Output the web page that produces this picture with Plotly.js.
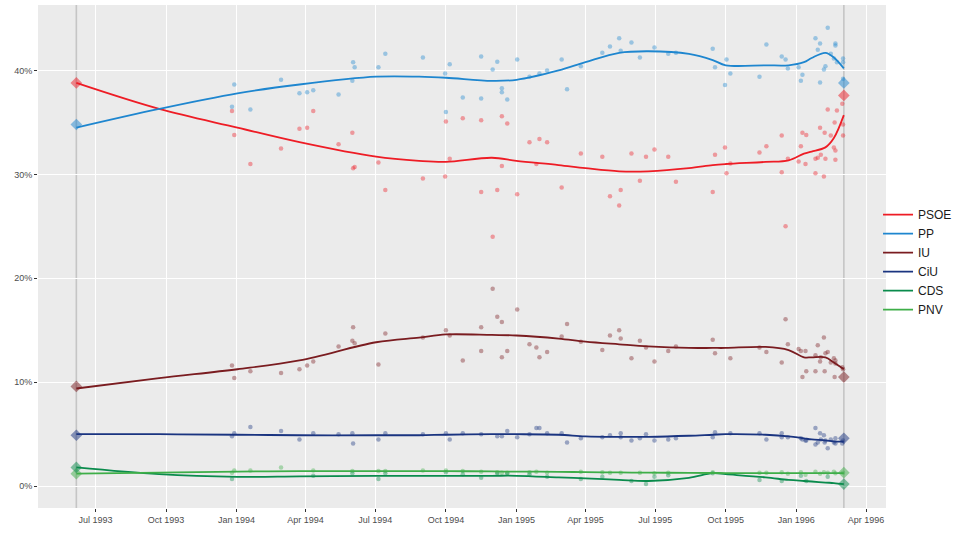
<!DOCTYPE html>
<html><head><meta charset="utf-8">
<script src="https://cdn.plot.ly/plotly-3.0.1.min.js"></script>
<style>html,body{margin:0;padding:0;background:#fff}#chart{width:960px;height:534px}</style>
</head><body><div id="chart"></div>
<script>
// ---- Party metadata ----
const parties = ["PSOE","PP","IU","CiU","CDS","PNV"];
const lineColors = ["#EE1C25","#1E86CF","#7A1C20","#1A3480","#0A8B4C","#3EAE48"];

// ---- Election results (diamonds) ----
const electionDates = ["1993-06-06","1996-03-03"];
const elecPSOE = [38.8, 37.6];
const elecPP   = [34.8, 38.8];
const elecIU   = [9.6, 10.5];
const elecCiU  = [4.9, 4.6];
const elecCDS  = [1.8, 0.2];
const elecPNV  = [1.2, 1.3];

// ---- Smoothed trend ----
const smoothDates = ["1993-06-06","1993-09-22","1994-01-02","1994-03-24","1994-07-02","1994-08-27","1994-10-01","1994-11-30","1995-01-01","1995-02-25","1995-04-01","1995-05-15","1995-06-22","1995-08-14","1995-09-14","1995-10-01","1995-11-22","1995-12-22","1996-01-11","1996-01-21","1996-02-08","1996-02-19","1996-03-03"];
const smPSOE = [38.8,36.3,34.5,33.1,31.7,31.3,31.2,31.6,31.3,30.9,30.6,30.3,30.3,30.6,30.9,31.0,31.2,31.35,32.0,32.2,32.6,33.5,35.7];
const smPP   = [34.5,36.3,37.8,38.65,39.4,39.4,39.3,39.0,39.1,40.0,40.8,41.7,41.85,41.6,41.0,40.5,40.5,40.5,40.8,41.2,41.7,41.25,40.2];
const smIU   = [9.4,10.4,11.25,12.1,13.85,14.3,14.6,14.55,14.5,14.2,13.9,13.65,13.45,13.3,13.3,13.3,13.4,13.1,12.4,12.4,12.4,11.9,11.25];
const smCiU  = [5.0,5.0,4.95,4.9,4.9,4.9,4.95,5.0,5.0,4.95,4.8,4.75,4.75,4.85,4.95,5.0,4.95,4.8,4.6,4.5,4.4,4.3,4.3];
const smCDS  = [1.8,1.15,0.9,0.95,1.0,1.0,1.0,1.0,1.0,0.85,0.75,0.6,0.5,0.8,1.25,1.15,0.85,0.6,0.5,0.45,0.35,0.3,0.2];
const smPNV  = [1.2,1.3,1.4,1.45,1.45,1.45,1.45,1.42,1.4,1.38,1.35,1.32,1.3,1.28,1.27,1.26,1.25,1.25,1.25,1.25,1.25,1.25,1.25];

// ---- Individual polls ----
const pollDatesPSOE = ["1993-12-29","1993-12-26","1994-01-19","1994-02-28","1994-03-24","1994-04-03","1994-04-11","1994-05-14","1994-06-01","1994-06-02","1994-06-04","1994-07-05","1994-07-14","1994-09-01","1994-09-30","1994-10-01","1994-10-06","1994-10-23","1994-11-16","1994-11-16","1994-12-01","1994-12-07","1994-12-13","1994-12-13","1994-12-20","1995-01-02","1995-01-18","1995-01-27","1995-01-31","1995-02-10","1995-03-01","1995-03-26","1995-04-23","1995-05-03","1995-05-15","1995-05-17","1995-05-31","1995-06-11","1995-06-19","1995-06-30","1995-07-18","1995-07-28","1995-09-14","1995-09-17","1995-09-30","1995-10-02","1995-10-07","1995-11-14","1995-11-23","1995-12-13","1995-12-13","1995-12-18","1995-12-21","1996-01-04","1996-01-07","1996-01-09","1996-01-13","1996-01-14","1996-01-26","1996-01-26","1996-01-29","1996-02-01","1996-02-02","1996-02-07","1996-02-06","1996-02-08","1996-02-11","1996-02-15","1996-02-19","1996-02-20","1996-02-21","1996-02-23","1996-02-21","1996-03-01","1996-03-02","1996-03-02"];
const pollPSOE = [33.8,36.1,31.0,32.5,34.4,34.5,36.1,32.9,34.0,30.6,30.7,31.15,28.5,29.6,29.8,35.1,31.5,35.4,28.3,35.2,24.0,28.5,35.6,30.8,34.9,28.1,33.1,31.0,33.4,33.1,28.75,32.0,31.7,27.9,27.0,28.5,32.0,29.4,31.7,32.4,31.7,29.3,28.3,31.9,32.6,30.1,31.05,32.1,32.7,33.75,30.2,25.0,31.5,31.25,32.7,34.0,31.0,33.8,31.5,30.1,31.6,34.5,31.9,34.0,29.8,31.5,36.25,33.75,32.6,35.0,32.3,36.15,31.4,36.8,34.8,33.75];

const pollDatesPP = ["1993-12-29","1993-12-26","1994-01-19","1994-02-28","1994-03-24","1994-04-03","1994-04-11","1994-05-14","1994-06-02","1994-06-04","1994-06-01","1994-07-05","1994-07-14","1994-09-01","1994-09-30","1994-10-01","1994-10-06","1994-10-23","1994-11-16","1994-11-16","1994-12-01","1994-12-07","1994-12-13","1994-12-13","1994-12-20","1995-01-02","1995-01-18","1995-01-31","1995-02-10","1995-03-01","1995-03-08","1995-03-26","1995-04-23","1995-05-03","1995-05-15","1995-05-17","1995-05-31","1995-06-11","1995-06-30","1995-07-18","1995-07-28","1995-09-14","1995-09-17","1995-09-30","1995-10-02","1995-10-07","1995-11-14","1995-11-23","1995-12-13","1995-12-18","1995-12-21","1996-01-04","1996-01-07","1996-01-09","1996-01-26","1996-01-29","1996-02-01","1996-02-01","1996-02-06","1996-02-11","1996-02-08","1996-02-15","1996-02-19","1996-02-21","1996-02-21","1996-02-23","1996-03-02","1996-03-02","1996-03-02"];
const pollPP = [38.65,36.5,36.25,39.1,37.8,37.9,38.1,37.7,40.8,40.3,39.0,40.3,41.6,41.25,39.7,36.0,40.6,37.4,41.35,37.3,40.1,40.85,38.3,37.9,37.2,41.05,39.4,39.7,40.0,41.05,38.2,40.4,41.7,42.3,43.1,41.9,42.7,41.25,42.2,41.6,41.7,42.1,40.3,38.6,41.05,39.7,39.4,42.5,41.35,41.05,40.2,40.3,39.0,39.6,43.1,42.0,42.6,38.85,40.1,44.1,40.4,41.6,41.15,42.4,42.6,40.8,41.15,40.8,39.2];

const pollDatesIU = ["1993-12-26","1993-12-29","1994-01-19","1994-02-28","1994-03-24","1994-04-03","1994-04-11","1994-05-14","1994-06-01","1994-06-04","1994-06-02","1994-07-05","1994-07-14","1994-09-01","1994-10-01","1994-10-06","1994-10-23","1994-11-16","1994-11-16","1994-12-01","1994-12-07","1994-12-13","1994-12-13","1994-12-20","1995-01-02","1995-01-18","1995-01-27","1995-01-31","1995-02-10","1995-03-01","1995-03-08","1995-03-26","1995-04-23","1995-05-03","1995-05-15","1995-05-17","1995-05-31","1995-06-11","1995-06-19","1995-06-30","1995-07-18","1995-07-28","1995-09-14","1995-09-17","1995-10-07","1995-11-14","1995-11-23","1995-12-13","1995-12-18","1995-12-21","1996-01-04","1996-01-07","1996-01-09","1996-01-13","1996-01-14","1996-01-26","1996-01-26","1996-01-29","1996-02-01","1996-02-02","1996-02-06","1996-02-07","1996-02-08","1996-02-11","1996-02-15","1996-02-19","1996-02-20","1996-02-21","1996-02-21","1996-03-01","1996-03-02"];
const pollIU = [11.6,10.4,11.05,10.9,11.25,11.6,12.0,13.45,14.0,13.75,15.3,11.7,14.7,14.3,15.0,14.5,12.1,15.3,13.0,19.0,16.3,15.8,12.4,13.0,17.0,13.65,13.35,12.4,12.9,14.4,15.6,13.9,13.1,14.5,15.0,14.2,12.3,14.0,13.35,12.0,13.0,13.45,14.1,12.8,12.3,13.35,12.9,11.9,16.05,13.65,13.2,13.0,10.5,13.0,11.05,12.6,11.05,13.55,12.0,12.4,14.3,11.05,12.8,12.9,11.9,12.3,10.5,11.8,12.1,11.45,11.25];

const pollDatesCiU = ["1993-12-26","1993-12-29","1994-01-19","1994-02-28","1994-03-24","1994-04-11","1994-05-14","1994-06-01","1994-06-02","1994-07-05","1994-07-14","1994-09-01","1994-10-01","1994-10-06","1994-10-23","1994-11-16","1994-12-07","1994-12-13","1994-12-20","1995-01-02","1995-01-18","1995-01-27","1995-01-31","1995-02-10","1995-03-01","1995-03-08","1995-03-26","1995-04-23","1995-05-03","1995-05-17","1995-05-17","1995-05-31","1995-06-11","1995-06-19","1995-06-30","1995-07-18","1995-07-28","1995-09-14","1995-09-17","1995-10-07","1995-11-14","1995-11-23","1995-12-13","1995-12-13","1995-12-21","1996-01-07","1996-01-09","1996-01-13","1996-01-14","1996-01-26","1996-01-26","1996-01-29","1996-02-01","1996-02-02","1996-02-06","1996-02-07","1996-02-08","1996-02-11","1996-02-15","1996-02-19","1996-02-21","1996-02-21","1996-03-01","1996-03-02"];
const pollCiU = [4.8,5.1,5.7,5.3,4.5,5.1,5.0,5.1,4.1,4.5,5.1,5.0,5.1,4.5,5.1,5.0,4.8,4.8,5.3,4.7,5.0,5.6,5.6,5.1,5.1,4.2,4.6,4.7,4.9,5.1,4.7,4.4,4.6,5.0,4.4,4.5,4.6,4.7,5.2,5.1,5.1,4.5,4.7,5.1,4.7,4.6,4.5,4.4,4.4,5.6,4.0,4.2,5.1,4.5,4.9,4.2,4.4,3.65,4.5,4.2,4.6,4.1,4.1,4.4];

const pollDatesCDS = ["1993-12-26","1994-04-11","1994-06-01","1994-07-05","1994-07-14","1994-10-01","1994-10-23","1994-11-16","1994-12-07","1994-12-20","1995-01-18","1995-02-10","1995-03-26","1995-04-23","1995-05-31","1995-06-19","1995-06-30","1995-07-18","1995-09-14","1995-11-14","1995-12-13","1996-01-07","1996-01-14","1996-02-11"];
const pollCDS = [0.7,1.0,1.25,0.7,1.25,1.35,1.15,0.8,1.25,1.25,1.15,0.9,0.7,0.9,0.5,0.2,0.9,1.05,1.25,0.6,0.5,1.0,0.5,0.9];

const pollDatesPNV = ["1993-12-26","1993-12-29","1994-01-19","1994-02-28","1994-04-11","1994-06-01","1994-07-05","1994-07-14","1994-09-01","1994-10-01","1994-10-23","1994-11-16","1994-12-07","1994-12-13","1994-12-20","1995-01-18","1995-01-27","1995-02-10","1995-03-26","1995-04-23","1995-05-03","1995-05-17","1995-06-11","1995-06-30","1995-07-18","1995-09-14","1995-11-14","1995-11-23","1995-12-13","1995-12-21","1996-01-07","1996-01-13","1996-01-26","1996-02-01","1996-02-06","1996-02-11","1996-02-19","1996-02-21","1996-03-02"];
const pollPNV = [1.3,1.5,1.5,1.8,1.5,1.45,1.45,1.45,1.5,1.5,1.45,1.4,1.35,1.3,1.3,1.35,1.4,1.3,1.4,1.35,1.3,1.3,1.3,1.25,1.3,1.35,1.3,1.3,1.35,1.2,1.35,1.1,1.4,1.2,1.35,1.3,1.4,1.25,1.3];

// ---- Axis ticks ----
const xTickVals = ["1993-07-01","1993-10-01","1994-01-01","1994-04-01","1994-07-01","1994-10-01","1995-01-01","1995-04-01","1995-07-01","1995-10-01","1996-01-01","1996-04-01"];
const xTickText = ["Jul 1993","Oct 1993","Jan 1994","Apr 1994","Jul 1994","Oct 1994","Jan 1995","Apr 1995","Jul 1995","Oct 1995","Jan 1996","Apr 1996"];
const yTickVals = [0,10,20,30,40];
const yTickText = ["0%","10%","20%","30%","40%"];

const pollX = [pollDatesPSOE,pollDatesPP,pollDatesIU,pollDatesCiU,pollDatesCDS,pollDatesPNV];
const pollY = [pollPSOE,pollPP,pollIU,pollCiU,pollCDS,pollPNV];
const smY = [smPSOE,smPP,smIU,smCiU,smCDS,smPNV];
const elY = [elecPSOE,elecPP,elecIU,elecCiU,elecCDS,elecPNV];

const traces = [];
for (let i = parties.length-1; i >= 0; i--) {
  traces.push({type:"scatter",mode:"markers",x:pollX[i],y:pollY[i],showlegend:false,hoverinfo:"skip",
    marker:{color:lineColors[i],size:4.5,opacity:0.4,line:{width:0}}});
}
for (let i = parties.length-1; i >= 0; i--) {
  traces.push({type:"scatter",mode:"markers",x:electionDates,y:elY[i],showlegend:false,hoverinfo:"skip",
    marker:{color:lineColors[i],symbol:"diamond",size:9,opacity:0.5,line:{width:0}}});
}
for (let i = 0; i < parties.length; i++) {
  traces.push({type:"scatter",mode:"lines",name:parties[i],x:smoothDates,y:smY[i],
    line:{color:lineColors[i],width:1.8,shape:"spline",smoothing:1}});
}

const layout = {
  width:960,height:534,
  margin:{l:38,r:74,t:5,b:26,autoexpand:false},
  paper_bgcolor:"#ffffff",plot_bgcolor:"#EBEBEB",
  font:{family:"Liberation Sans, Arial, sans-serif",color:"#4D4D4D",size:9},
  showlegend:true,
  legend:{x:0.9906,xanchor:"left",y:0.612,yanchor:"top",bgcolor:"rgba(0,0,0,0)",
    font:{size:12,color:"#1A1A1A"},tracegroupgap:0,itemwidth:30},
  xaxis:{type:"date",range:["1993-04-17","1996-04-27"],tickvals:xTickVals,ticktext:xTickText,
    showgrid:true,gridcolor:"#FFFFFF",gridwidth:1,zeroline:false,ticks:"outside",ticklen:3,
    tickcolor:"#333333",tickfont:{size:9,color:"#4D4D4D"},showline:false,automargin:false},
  yaxis:{range:[-2.1,46.3],tickvals:yTickVals,ticktext:yTickText,showgrid:true,gridcolor:"#FFFFFF",
    gridwidth:1,zeroline:false,ticks:"outside",ticklen:3,tickcolor:"#333333",
    tickfont:{size:9,color:"#4D4D4D"},showline:false,automargin:false},
  shapes:electionDates.map(d=>({type:"line",xref:"x",yref:"paper",x0:d,x1:d,y0:0,y1:1,
    line:{color:"rgba(150,150,150,0.45)",width:1.6},layer:"below"}))
};
Plotly.newPlot("chart",traces,layout,{displayModeBar:false,staticPlot:true});
</script></body></html>
